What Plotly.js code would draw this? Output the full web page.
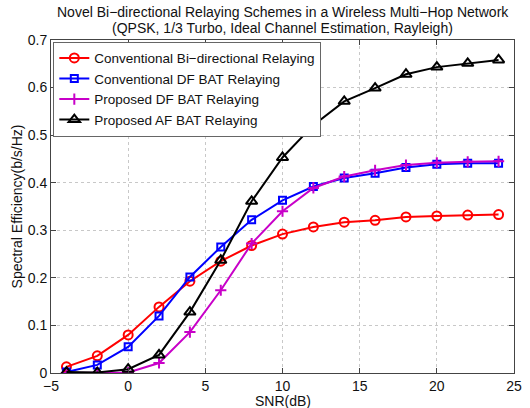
<!DOCTYPE html>
<html>
<head>
<meta charset="utf-8">
<script src="https://cdn.plot.ly/plotly-3.0.1.min.js"></script>
<style>html,body{margin:0;padding:0;background:#fff;}#chart{width:530px;height:408px;}</style>
</head>
<body>
<div id="chart"></div>
<script>
const snr = [-4, -2, 0, 2, 4, 6, 8, 10, 12, 14, 16, 18, 20, 22, 24];
const convBiDir = [0.013, 0.036, 0.080, 0.139, 0.193, 0.235, 0.268, 0.292, 0.307, 0.317, 0.321, 0.328, 0.330, 0.332, 0.333];
const convDF = [0.002, 0.017, 0.055, 0.120, 0.202, 0.265, 0.322, 0.363, 0.392, 0.410, 0.420, 0.432, 0.439, 0.441, 0.441];
const propDF = [0.000, 0.000, 0.001, 0.021, 0.086, 0.174, 0.272, 0.340, 0.389, 0.413, 0.426, 0.437, 0.442, 0.444, 0.445];
const propAF = [0.002, 0.001, 0.008, 0.038, 0.128, 0.237, 0.361, 0.453, 0.521, 0.571, 0.599, 0.628, 0.643, 0.651, 0.658];
const names = ["Conventional Bi\u2212directional Relaying", "Conventional DF BAT Relaying", "Proposed DF BAT Relaying", "Proposed AF BAT Relaying"];
const titleLines = ["Novel Bi\u2212directional Relaying Schemes in a Wireless Multi\u2212Hop Network",
                    "(QPSK, 1/3 Turbo, Ideal Channel Estimation, Rayleigh)"];
const xLabel = "SNR(dB)";
const yLabel = "Spectral Efficiency(b/s/Hz)";
const xTicks = [-5, 0, 5, 10, 15, 20, 25];
const xTickText = ["\u22125", "0", "5", "10", "15", "20", "25"];
const yTicks = [0, 0.1, 0.2, 0.3, 0.4, 0.5, 0.6, 0.7];
const yTickText = ["0", "0.1", "0.2", "0.3", "0.4", "0.5", "0.6", "0.7"];

const font = "Liberation Sans, Arial, sans-serif";
const FS = 14;
const traces = [
  {x: snr, y: convBiDir, name: names[0], mode: "lines+markers",
   line: {color: "#ff0000", width: 2}, marker: {symbol: "circle-open", size: 9, color: "#ff0000", line: {width: 2}}},
  {x: snr, y: convDF, name: names[1], mode: "lines+markers",
   line: {color: "#0000ff", width: 2}, marker: {symbol: "square-open", size: 7, color: "#0000ff", line: {width: 2}}},
  {x: snr, y: propDF, name: names[2], mode: "lines+markers",
   line: {color: "#c800c8", width: 2}, marker: {symbol: "cross-thin-open", size: 8, color: "#c800c8", line: {width: 2, color: "#c800c8"}}},
  {x: snr, y: propAF, name: names[3], mode: "lines+markers",
   line: {color: "#000000", width: 2}, marker: {symbol: "triangle-up-open", size: 10, color: "#000000", line: {width: 2}}}
];

const axisCommon = {
  showline: true, mirror: "ticks", linecolor: "#444", linewidth: 1,
  ticks: "inside", ticklen: 5, tickcolor: "#444",
  showgrid: true, gridcolor: "#c8c8c8", griddash: "dot", gridwidth: 1,
  zeroline: false, tickfont: {family: font, size: FS, color: "#111"}
};

const layout = {
  width: 530, height: 408,
  margin: {l: 51, r: 16, t: 40, b: 35},
  paper_bgcolor: "#fff", plot_bgcolor: "#fff",
  font: {family: font, color: "#111"},
  xaxis: Object.assign({}, axisCommon, {range: [-5, 25], tickvals: xTicks, ticktext: xTickText}),
  yaxis: Object.assign({}, axisCommon, {range: [0, 0.7], tickvals: yTicks, ticktext: yTickText,
    title: {text: yLabel, font: {family: font, size: FS, color: "#111"}, standoff: 1}}),
  legend: {x: 0.005, y: 0.995, xanchor: "left", yanchor: "top", bgcolor: "#fff", bordercolor: "#666", borderwidth: 1,
    font: {family: font, size: 13.5, color: "#111"}, tracegroupgap: 0, itemwidth: 30},
  annotations: [
    {text: titleLines[0], xref: "paper", yref: "paper", x: 0.5, y: 1.084, xanchor: "center", yanchor: "middle",
     showarrow: false, font: {family: font, size: FS, color: "#111"}},
    {text: titleLines[1], xref: "paper", yref: "paper", x: 0.5, y: 1.036, xanchor: "center", yanchor: "middle",
     showarrow: false, font: {family: font, size: FS, color: "#111"}},
    {text: xLabel, xref: "paper", yref: "paper", x: 0.5, y: -0.083, xanchor: "center", yanchor: "middle",
     showarrow: false, font: {family: font, size: FS, color: "#111"}}
  ],
  showlegend: true
};

Plotly.newPlot("chart", traces, layout, {displayModeBar: false, staticPlot: true});
</script>
</body>
</html>
